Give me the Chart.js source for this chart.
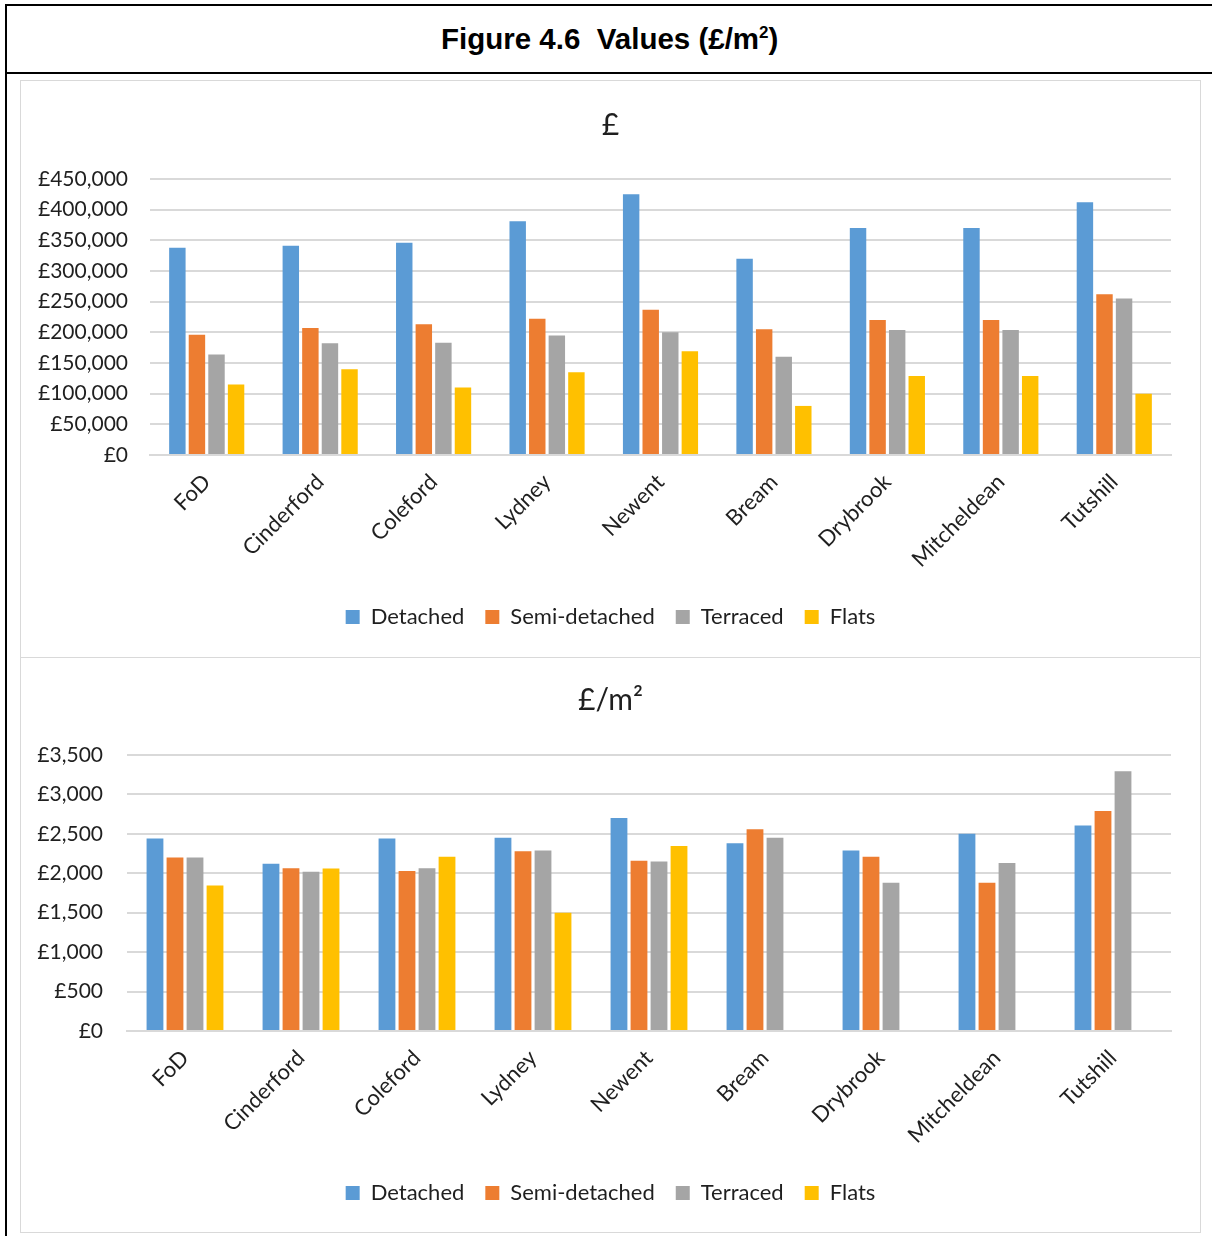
<!DOCTYPE html>
<html>
<head>
    <title>Figure 4.6 Values</title>
    <script src="https://cdn.jsdelivr.net/npm/chart.js"></script>
    <style>
        body { margin: 0; background: #fff; }
        #outer {
            position: absolute; left: 5px; top: 4px; width: 1230px; height: 1260px;
            border: 2px solid #000; box-sizing: border-box;
        }
        #header {
            position: absolute; left: 0; top: 0; width: 100%; height: 68px;
            border-bottom: 2px solid #000; box-sizing: border-box;
            font-family: "Liberation Sans", Arial, sans-serif; font-weight: bold; font-size: 29.5px;
            line-height: 66px; color: #000;
        }
        #header span { position: absolute; left: 434px; white-space: pre; }
        #header sup { font-size: 17px; line-height: 0; }
        .panel {
            position: absolute; left: 20px; width: 1181px;
            border: 1px solid #d9d9d9; box-sizing: border-box; background: #fff;
        }
        #panel1 { top: 80px; height: 578px; }
        #panel2 { top: 657px; height: 576px; }
        canvas { display: block; }
    </style>
</head>
<body>
    <div id="outer">
        <div id="header"><span>Figure 4.6  Values (£/m<sup>2</sup>)</span></div>
    </div>
    <div class="panel" id="panel1"><canvas id="chartPrice" width="1179" height="576"></canvas></div>
    <div class="panel" id="panel2"><canvas id="chartSqm" width="1179" height="574"></canvas></div>

    <script>
        const areas = ['FoD', 'Cinderford', 'Coleford', 'Lydney', 'Newent', 'Bream', 'Drybrook', 'Mitcheldean', 'Tutshill'];
        const houseTypes = ['Detached', 'Semi-detached', 'Terraced', 'Flats'];
        const typeColors = ['#5B9BD5', '#ED7D31', '#A5A5A5', '#FFC000'];

        // £ per dwelling
        const priceDetached = [338000, 341000, 346000, 381000, 425000, 320000, 370000, 370000, 412000];
        const priceSemi = [196000, 207000, 213000, 222000, 237000, 205000, 220000, 220000, 262000];
        const priceTerraced = [164000, 182000, 183000, 195000, 200000, 160000, 204000, 204000, 255000];
        const priceFlats = [115000, 140000, 110000, 135000, 169000, 80000, 129000, 129000, 100000];
        const priceTicks = [0, 50000, 100000, 150000, 200000, 250000, 300000, 350000, 400000, 450000];

        // £ per m2
        const sqmDetached = [2440, 2120, 2440, 2450, 2700, 2380, 2290, 2500, 2605];
        const sqmSemi = [2200, 2065, 2030, 2280, 2160, 2560, 2210, 1880, 2790];
        const sqmTerraced = [2200, 2020, 2065, 2290, 2150, 2450, 1880, 2130, 3295];
        const sqmFlats = [1845, 2060, 2210, 1500, 2345, null, null, null, null];
        const sqmTicks = [0, 500, 1000, 1500, 2000, 2500, 3000, 3500];

        const fontFamily = 'Lato, "Open Sans", sans-serif';
        const textColor = '#1f1f1f';
        const gridColor = '#d9d9d9';

        function makeChart(canvasId, title, series, ticks, yWidth, yPad, layout) {
            const datasets = series.map((data, i) => ({
                label: houseTypes[i],
                data: data,
                backgroundColor: typeColors[i],
                categoryPercentage: 0.69,
                barPercentage: 0.84
            }));

            return new Chart(document.getElementById(canvasId), {
                type: 'bar',
                data: { labels: areas, datasets: datasets },
                options: {
                    responsive: false,
                    animation: false,
                    layout: { padding: { left: 0, right: 0, top: 0, bottom: layout.bottom } },
                    plugins: {
                        title: {
                            display: true,
                            text: title,
                            color: textColor,
                            font: { family: fontFamily, size: 30, weight: 'normal' },
                            padding: { top: layout.titleTop, bottom: layout.titleBottom }
                        },
                        legend: {
                            position: 'bottom',
                            labels: {
                                color: textColor,
                                font: { family: fontFamily, size: 22 },
                                boxWidth: 14,
                                boxHeight: 14,
                                padding: 21
                            }
                        },
                        tooltip: { enabled: false }
                    },
                    scales: {
                        x: {
                            grid: { display: false },
                            border: { display: true, color: gridColor, width: 2 },
                            ticks: {
                                color: textColor,
                                font: { family: fontFamily, size: 22 },
                                minRotation: 45,
                                maxRotation: 45,
                                autoSkip: false,
                                padding: 6
                            },
                            afterFit: scale => { scale.height = layout.xHeight; }
                        },
                        y: {
                            min: 0,
                            max: ticks[ticks.length - 1],
                            grid: { color: gridColor, lineWidth: 2, drawTicks: false },
                            border: { display: false },
                            ticks: {
                                color: textColor,
                                font: { family: fontFamily, size: 21 },
                                padding: yPad,
                                callback: v => '£' + v.toLocaleString('en-GB')
                            },
                            afterBuildTicks: scale => { scale.ticks = ticks.map(v => ({ value: v })); },
                            afterFit: scale => { scale.width = yWidth; }
                        },
                        // empty right-hand strip, keeps title and legend centred on the panel
                        rightGap: {
                            type: 'linear',
                            position: 'right',
                            grid: { display: false },
                            border: { display: false },
                            ticks: { display: false },
                            afterFit: scale => { scale.width = 29; }
                        }
                    }
                }
            });
        }

        makeChart('chartPrice', '£',
            [priceDetached, priceSemi, priceTerraced, priceFlats],
            priceTicks, 129, 22, { titleTop: 26, titleBottom: 36, xHeight: 130, bottom: 19 });

        makeChart('chartSqm', '£/m²',
            [sqmDetached, sqmSemi, sqmTerraced, sqmFlats],
            sqmTicks, 106, 24, { titleTop: 24, titleBottom: 37, xHeight: 130, bottom: 18 });
    </script>
</body>
</html>
